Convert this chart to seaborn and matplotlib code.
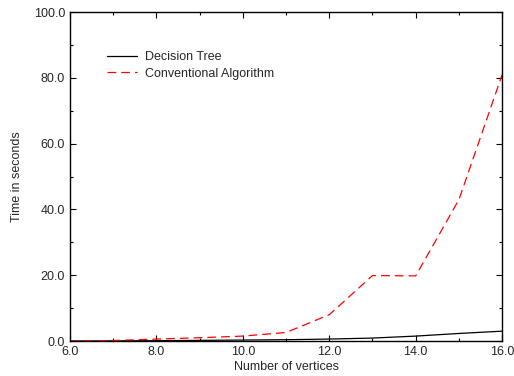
import numpy as np
import pandas as pd
import matplotlib
matplotlib.use("Agg")
import matplotlib.pyplot as plt
import seaborn as sns
from matplotlib.ticker import MultipleLocator, FormatStrFormatter

vertices = [6, 7, 8, 9, 10, 11, 12, 13, 14, 15, 16]
decision_tree = [0.0, 0.05, 0.1, 0.2, 0.3, 0.4, 0.6, 0.9, 1.5, 2.3, 3.0]
conventional = [0.0, 0.15, 0.6, 1.0, 1.5, 2.6, 8.0, 19.9, 19.8, 43.0, 81.0]
series_names = ["Decision Tree", "Conventional Algorithm"]

df = pd.DataFrame({
    "x": vertices * 2,
    "y": decision_tree + conventional,
    "series": [series_names[0]] * len(vertices) + [series_names[1]] * len(vertices),
})

sns.set_style("white")
plt.rcParams["font.family"] = ["Liberation Sans", "DejaVu Sans"]
plt.rcParams["font.size"] = 9

fig = plt.figure(figsize=(5.14, 3.76), dpi=100)
ax = fig.add_axes([0.136, 0.093, 0.841, 0.875])

sns.lineplot(data=df, x="x", y="y", hue="series", style="series",
             palette={series_names[0]: "black", series_names[1]: "red"},
             dashes={series_names[0]: "", series_names[1]: (7, 4)},
             linewidth=0.9, ax=ax)

ax.set_xlim(6, 16)
ax.set_ylim(0, 100)
ax.xaxis.set_major_locator(MultipleLocator(2))
ax.xaxis.set_minor_locator(MultipleLocator(1))
ax.yaxis.set_major_locator(MultipleLocator(20))
ax.yaxis.set_minor_locator(MultipleLocator(10))
ax.xaxis.set_major_formatter(FormatStrFormatter("%.1f"))
ax.yaxis.set_major_formatter(FormatStrFormatter("%.1f"))
ax.tick_params(which="both", direction="in", top=True, right=True, bottom=True, left=True,
               labelsize=9, color="black")
ax.tick_params(which="major", length=4, width=0.8)
ax.tick_params(which="minor", length=2.5, width=0.8)
for s in ax.spines.values():
    s.set_color("black")
    s.set_linewidth(1.0)

ax.set_xlabel("Number of vertices", fontsize=9, labelpad=2)
ax.set_ylabel("Time in seconds", fontsize=9, labelpad=8)

leg = ax.legend(loc="upper left", bbox_to_anchor=(0.06, 0.915), frameon=False,
                fontsize=9, handlelength=2.4, handletextpad=0.6, labelspacing=0.35)

fig.savefig("out.png", dpi=100)
